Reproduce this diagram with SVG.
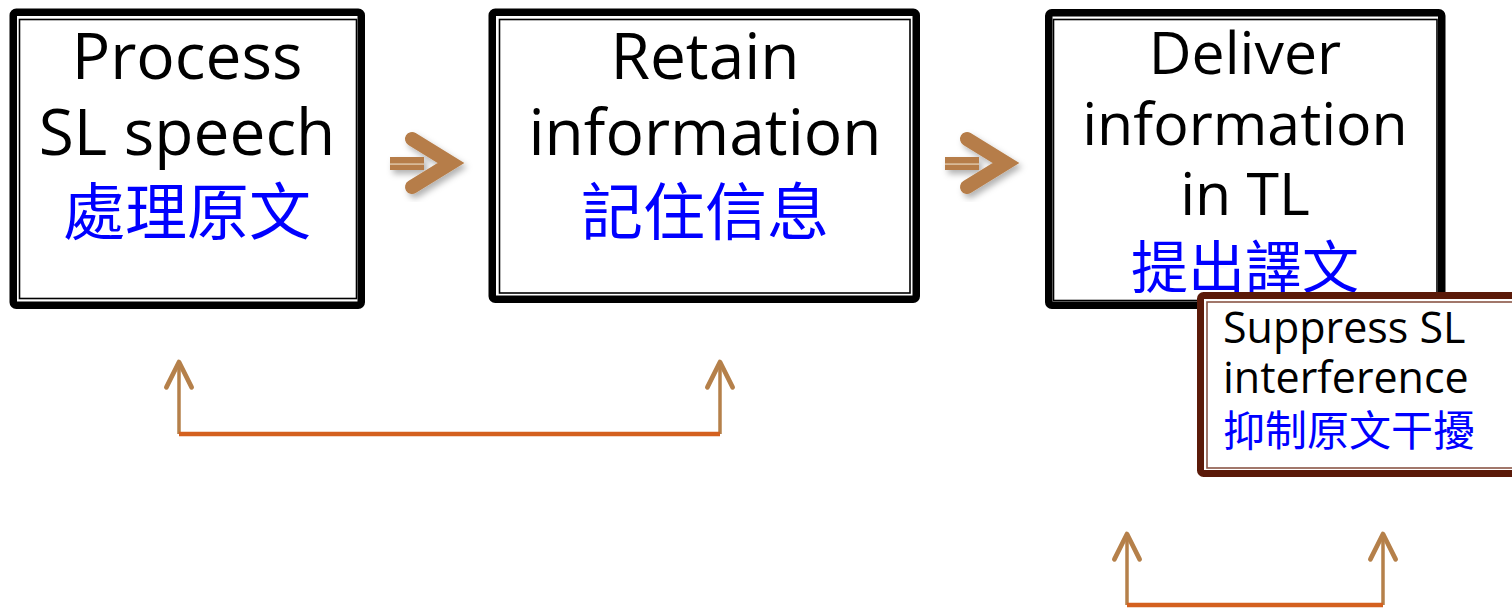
<svg xmlns="http://www.w3.org/2000/svg" width="1512" height="608" viewBox="0 0 1512 608">
<defs>
<style>
.outer{fill:#fff;stroke:#000;stroke-width:7.5}
.inner{fill:none;stroke:#000;stroke-width:1.6}
.en{font-family:"Open Sans","DejaVu Sans",sans-serif;fill:#000}
.zh{font-family:"Noto Sans CJK TC","Noto Sans CJK SC",sans-serif;fill:#0000ff}
.big{font-size:64px;text-anchor:middle}
.mid{font-size:59px;text-anchor:middle}
.zhbig{font-size:62px;text-anchor:middle}
.zhmid{font-size:57px;text-anchor:middle}
.small{font-size:43px}
.zhsmall{font-size:42px}
.vert{stroke:#b5804a;stroke-width:3.5;fill:none;marker-end:url(#head)}
.horiz{stroke:#d4601e;stroke-width:4.5;fill:none}
.chev{fill:none;stroke:#b67d48;stroke-width:14;stroke-linecap:round;stroke-linejoin:miter;stroke-miterlimit:10}
</style>
<marker id="head" markerUnits="userSpaceOnUse" orient="auto" markerWidth="40" markerHeight="40" refX="0" refY="0" viewBox="-25 -15 30 30" overflow="visible">
<path d="M-19,-9.5 L0,0 L-19,9.5" fill="none" stroke="#b5804a" stroke-width="3.5" stroke-linecap="round" stroke-linejoin="round"/>
</marker>
<filter id="shadow" x="-30%" y="-30%" width="160%" height="160%">
<feDropShadow dx="3" dy="4" stdDeviation="3" flood-color="#000" flood-opacity="0.3"/>
</filter>
<g id="bigarrow">
<rect x="0" y="157" width="34" height="13" fill="#b67d48"/>
<rect x="0" y="163.3" width="34" height="1.6" fill="#dcc0a0"/>
<polyline class="chev" points="22,139 61,163 22,187"/>
</g>
</defs>
<rect width="1512" height="608" fill="#fff"/>

<g id="node-process">
<rect class="outer" x="13.25" y="12.25" width="348" height="293" rx="3"/>
<rect class="inner" x="19.5" y="19.5" width="337" height="279"/>
<text class="en big" x="187" y="79">Process</text>
<text class="en big" x="187" y="155">SL speech</text>
<text class="zh zhbig" x="187" y="235">處理原文</text>
</g>

<g id="node-retain">
<rect class="outer" x="492.25" y="12.25" width="424" height="287" rx="3"/>
<rect class="inner" x="499.5" y="19.5" width="410.5" height="273.5"/>
<text class="en big" x="705" y="79">Retain</text>
<text class="en big" x="705" y="155">information</text>
<text class="zh zhbig" x="705" y="235">記住信息</text>
</g>

<g id="node-deliver">
<rect class="outer" x="1048.75" y="12.75" width="393" height="292.5" rx="3"/>
<rect class="inner" x="1053.5" y="19.5" width="383.5" height="281"/>
<text class="en mid" x="1245" y="74">Deliver</text>
<text class="en mid" x="1245" y="145">information</text>
<text class="en mid" x="1245" y="215">in TL</text>
<text class="zh zhmid" x="1245" y="288">提出譯文</text>
</g>

<g id="node-suppress">
<rect x="1200.5" y="295.5" width="340" height="178" rx="3" fill="#fff" stroke="#5b1a09" stroke-width="7"/>
<rect x="1207" y="302" width="340" height="166" fill="none" stroke="#8a5646" stroke-width="1.6"/>
<text class="en small" x="1223" y="343">Suppress SL</text>
<text class="en small" x="1223" y="393">interference</text>
<text class="zh zhsmall" x="1223" y="446">抑制原文干擾</text>
</g>

<g id="connectors">
<g filter="url(#shadow)">
<use href="#bigarrow" x="390" y="0"/>
<use href="#bigarrow" x="945" y="0"/>
</g>
<path class="vert" d="M179,434 L179,362"/>
<path class="vert" d="M720,434 L720,362"/>
<path class="horiz" d="M179,434 L720,434"/>
<path class="vert" d="M1127,605 L1127,534"/>
<path class="vert" d="M1383,605 L1383,534"/>
<path class="horiz" d="M1127,605 L1383,605"/>
</g>
</svg>
